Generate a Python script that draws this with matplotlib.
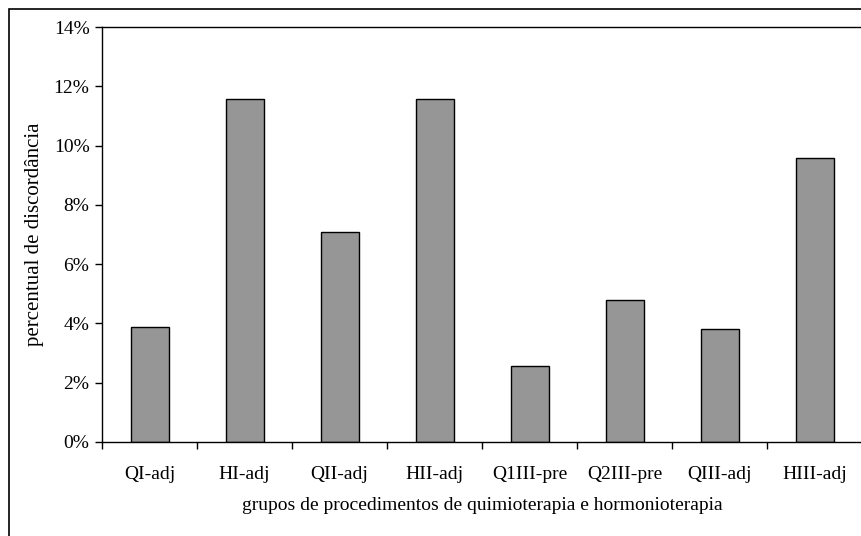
import numpy as np
import matplotlib.pyplot as plt
from matplotlib.patches import Rectangle
from matplotlib.ticker import FuncFormatter

plt.rcParams['font.family'] = ['Liberation Serif', 'DejaVu Serif']

## Data
grupos = ["QI-adj", "HI-adj", "QII-adj", "HII-adj", "Q1III-pre", "Q2III-pre", "QIII-adj", "HIII-adj"]
discordancia = [3.88, 11.57, 7.08, 11.57, 2.56, 4.79, 3.81, 9.58]

W, H = 861, 536
fig = plt.figure(figsize=(W / 100, H / 100), dpi=100)

# outer frame (cropped at right and bottom, like the original)
fig.patches.append(Rectangle((9 / W, -0.05), 1.1, 1.05 - 9 / H, transform=fig.transFigure,
                             fill=False, edgecolor='black', linewidth=1.2))

ax = fig.add_axes([102 / W, 1 - 442 / H, 760 / W, (442 - 27) / H])

x = np.arange(len(grupos))
ax.bar(x, discordancia, width=0.4, color='#969696', edgecolor='black', linewidth=1.0, zorder=2)

ax.set_xlim(-0.5, len(grupos) - 0.5)
ax.set_ylim(0, 14)
ax.set_yticks(np.arange(0, 15, 2))
ax.yaxis.set_major_formatter(FuncFormatter(lambda v, p: f"{v:.0f}%"))

# category labels between the boundary ticks
ax.set_xticks(np.arange(-0.5, len(grupos), 1.0))
ax.set_xticklabels([])
ax.set_xticks(x, minor=True)
ax.set_xticklabels(grupos, minor=True)
ax.tick_params(axis='x', which='minor', length=0, pad=17, labelsize=14)
ax.tick_params(axis='x', which='major', direction='out', length=5, width=1)
ax.tick_params(axis='y', direction='out', length=5, width=1, labelsize=14, pad=4)

for s in ax.spines.values():
    s.set_linewidth(1.0)

ax.set_xlabel("grupos de procedimentos de quimioterapia e hormonioterapia", fontsize=14, labelpad=10.5)
ax.set_ylabel("percentual de discordância", fontsize=15, labelpad=7)

fig.savefig("out.png", dpi=100)
